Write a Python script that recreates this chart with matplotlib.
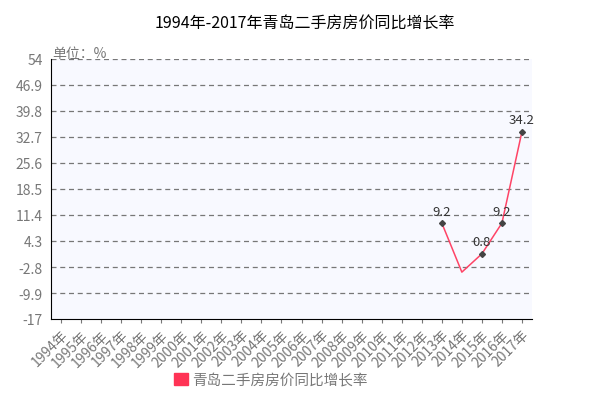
import numpy as np
import matplotlib
matplotlib.use("Agg")
import matplotlib.pyplot as plt

plt.rcParams['font.family'] = ['Noto Sans CJK SC', 'DejaVu Sans']

years = [str(y) + "年" for y in range(1994, 2018)]
values = [np.nan] * 19 + [9.2, -4.2, 0.8, 9.2, 34.2]
labels = [None] * 19 + ["9.2", None, "0.8", "9.2", "34.2"]
yticks = [-17, -9.9, -2.8, 4.3, 11.4, 18.5, 25.6, 32.7, 39.8, 46.9, 54]
series_name = "青岛二手房房价同比增长率"

fig = plt.figure(figsize=(6.1, 4.06), dpi=100)
ax = fig.add_axes([51 / 610, 1 - 320 / 406, 481 / 610, 260 / 406])
ax.set_facecolor("#f8f9ff")

x = np.arange(len(years))
ax.plot(x, values, color="#ff4466", lw=1.1, zorder=3)
for xi, v, lab in zip(x, values, labels):
    if lab:
        ax.plot(xi, v, ls="none", marker="D", ms=3, color="#444444", zorder=4)
        ax.annotate(lab, (xi, v), xytext=(0, 4), textcoords="offset points",
                    ha="center", va="bottom", fontsize=9.5, color="#333333")

ax.set_xlim(-0.5, len(years) - 0.5)
ax.set_ylim(-17, 54)
ax.set_yticks(yticks)
ax.set_yticklabels([("%g" % t) for t in yticks], color="#777777", fontsize=10)
for lbl in ax.get_yticklabels():
    lbl.set_va("center_baseline")
ax.set_xticks(x)
ax.set_xticklabels(years, rotation=45, ha="right", rotation_mode="anchor",
                   color="#777777", fontsize=10)
ax.tick_params(axis="y", length=0, pad=6)
ax.tick_params(axis="x", length=3, color="#777777", pad=3)
for t in yticks[1:]:
    ax.axhline(t, color="#777777", ls=(0, (4, 3)), lw=0.9, zorder=1)
ax.spines["top"].set_visible(False)
ax.spines["right"].set_visible(False)
ax.spines["left"].set_color("black")
ax.spines["bottom"].set_color("black")

fig.text(0.5, 1 - 24 / 406, "1994年-2017年青岛二手房房价同比增长率",
         ha="center", va="center", fontsize=11.5, color="black")
fig.text(52 / 610, 1 - 54 / 406, "单位：%", ha="left", va="center",
         fontsize=10, color="#777777")

fig.patches.append(plt.Rectangle((174 / 610, 1 - 386 / 406), 14 / 610, 12 / 406,
                                 color="#ff3355", transform=fig.transFigure, figure=fig))
fig.text(192 / 610, 1 - 380 / 406, series_name, ha="left", va="center",
         fontsize=10.5, color="#777777")

fig.savefig("out.png", dpi=100)
